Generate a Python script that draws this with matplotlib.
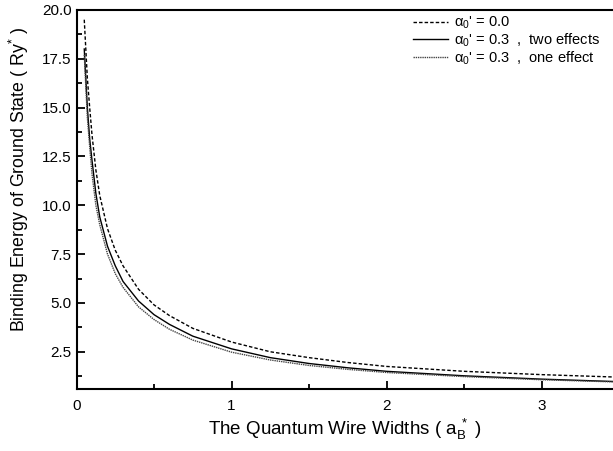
import matplotlib
matplotlib.use("Agg")
import matplotlib.pyplot as plt
from matplotlib.ticker import MultipleLocator, FormatStrFormatter

plt.rcParams['font.family'] = ['Liberation Sans', 'DejaVu Sans']
plt.rcParams['mathtext.fontset'] = 'custom'
plt.rcParams['mathtext.rm'] = 'Liberation Sans'
plt.rcParams['mathtext.it'] = 'Liberation Sans'
plt.rcParams['mathtext.sf'] = 'Liberation Sans'

# wire width (a_B*)
width = [0.05, 0.07, 0.085, 0.1, 0.125, 0.15, 0.2, 0.25, 0.3, 0.4, 0.5,
         0.6, 0.75, 1.0, 1.25, 1.5, 1.75, 2.0, 2.5, 3.0, 3.5]
# binding energy (Ry*)
e_alpha00 = [19.5, 16.5, 15.0, 13.6, 11.8, 10.5, 8.8, 7.7, 6.9, 5.7, 4.9,
             4.35, 3.7, 3.0, 2.5, 2.2, 1.95, 1.75, 1.5, 1.33, 1.2]
e_two_effects = [18.0, 15.0, 13.4, 12.3, 10.6, 9.4, 7.9, 6.9, 6.1, 5.1, 4.4,
                 3.9, 3.3, 2.65, 2.2, 1.9, 1.68, 1.5, 1.27, 1.1, 0.97]
e_one_effect = [17.7, 14.5, 13.0, 11.6, 10.0, 9.0, 7.5, 6.5, 5.8, 4.8, 4.15,
                3.65, 3.1, 2.48, 2.08, 1.8, 1.6, 1.44, 1.23, 1.07, 0.95]

labels = [r"$\alpha_0$' = 0.0",
          r"$\alpha_0$' = 0.3  ,  two effects",
          r"$\alpha_0$' = 0.3  ,  one effect"]

fig = plt.figure(figsize=(6.13, 4.51), dpi=100)
ax = fig.add_axes([0.1248, 0.1364, 0.8752, 0.8416])

ax.plot(width, e_alpha00, color='black', lw=1.0, ls=(0, (2.5, 1.5)), label=labels[0])
ax.plot(width, e_two_effects, color='black', lw=1.0, ls='-', label=labels[1])
ax.plot(width, e_one_effect, color='#444444', lw=1.0, ls=(0, (1, 0.6)), label=labels[2])

ax.set_xlim(0, 3.46)
ax.set_ylim(0.57, 20)
ax.xaxis.set_major_locator(MultipleLocator(1))
ax.xaxis.set_minor_locator(MultipleLocator(0.5))
ax.yaxis.set_major_locator(MultipleLocator(2.5))
ax.yaxis.set_minor_locator(MultipleLocator(1.25))
ax.yaxis.set_major_formatter(FormatStrFormatter('%.1f'))
ax.xaxis.set_major_formatter(FormatStrFormatter('%d'))
ax.tick_params(which='both', direction='in', labelsize=11, width=1.3)
ax.tick_params(which='major', length=6)
ax.tick_params(which='minor', length=3.5)
ax.tick_params(axis='x', pad=7)
for s in ['left', 'bottom', 'top']:
    ax.spines[s].set_linewidth(1.5)
ax.spines['right'].set_visible(False)

ax.set_xlabel(r"The Quantum Wire Widths ( a$_\mathregular{B}^{\ *}$ )", fontsize=13.5, labelpad=3)
ax.set_ylabel(r"Binding Energy of Ground State ( Ry$^{*}$ )", fontsize=12.8, labelpad=8)
ax.yaxis.set_label_coords(-0.085, 0.553)

ax.legend(loc='upper right', frameon=False, fontsize=10.5, handlelength=2.4,
          handletextpad=0.4, labelspacing=0.02, borderaxespad=0.0, borderpad=0.2,
          bbox_to_anchor=(0.982, 0.995))

fig.savefig("out.png", dpi=100)
